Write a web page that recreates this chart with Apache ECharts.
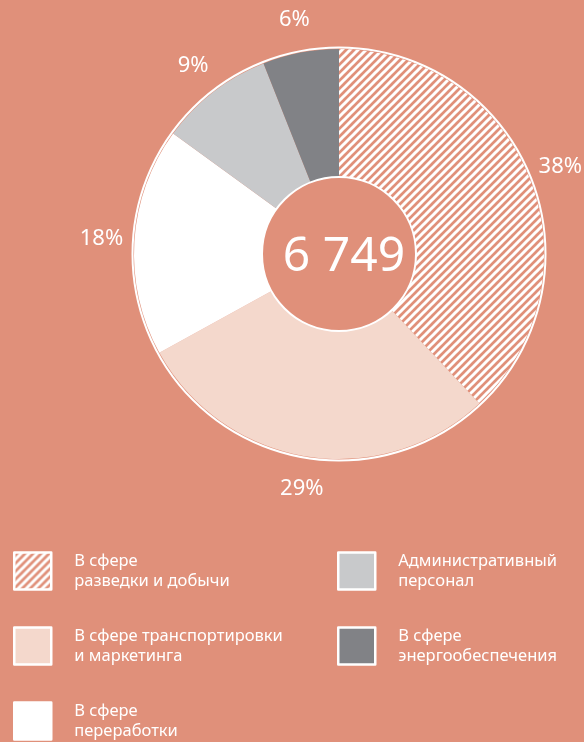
<!DOCTYPE html>
<html>
<head>
<meta charset="utf-8">
<script src="https://cdn.jsdelivr.net/npm/echarts@6/dist/echarts.min.js"></script>
<style>
  html, body { margin: 0; padding: 0; background: #e0907a; }
  #chart { width: 584px; height: 742px; }
</style>
</head>
<body>
<div id="chart"></div>
<script>
// shares of staff by sphere, percent
var categories = [
  'В сфере разведки и добычи',
  'В сфере транспортировки и маркетинга',
  'В сфере переработки',
  'Административный персонал',
  'В сфере энергообеспечения'
];
var legendLines = [
  'В сфере\nразведки и добычи',
  'В сфере транспортировки\nи маркетинга',
  'В сфере\nпереработки',
  'Административный\nперсонал',
  'В сфере\nэнергообеспечения'
];
var shares = [38, 29, 18, 9, 6];
var totalLabel = '6 749';

var bg = '#e0907a';

// where each legend entry sits: [left, top]
var legendSpots = [[13, 551], [13, 626], [13, 701], [337, 551], [337, 626]];

// diagonal white hatch for the first slice
function makeHatch() {
  var s = 8;
  var c = document.createElement('canvas');
  c.width = s;
  c.height = s;
  var ctx = c.getContext('2d');
  ctx.fillStyle = bg;
  ctx.fillRect(0, 0, s, s);
  ctx.strokeStyle = '#ffffff';
  ctx.lineWidth = 3;
  ctx.beginPath();
  ctx.moveTo(-2, s + 2); ctx.lineTo(s + 2, -2);
  ctx.moveTo(-s - 2, s + 2); ctx.lineTo(2, -2);
  ctx.moveTo(-2, 2 * s + 2); ctx.lineTo(2 * s + 2, -2);
  ctx.stroke();
  return c;
}

var colors = [
  { image: makeHatch(), repeat: 'repeat' },
  '#f4d8cc',
  '#ffffff',
  '#c8c9cb',
  '#818286'
];

var pieData = categories.map(function (name, i) {
  return { name: name, value: shares[i], itemStyle: { color: colors[i] } };
});

var chart = echarts.init(document.getElementById('chart'));

var legends = categories.map(function (name, i) {
  return {
    orient: 'vertical',
    left: legendSpots[i][0],
    top: legendSpots[i][1],
    padding: 0,
    itemWidth: 37,
    itemHeight: 37,
    icon: 'rect',
    selectedMode: false,
    data: [name],
    itemStyle: { borderColor: '#ffffff', borderWidth: 2.5 },
    textStyle: {
      color: '#ffffff',
      fontFamily: 'Noto Sans',
      fontSize: 16.5,
      lineHeight: 20,
      padding: [0, 0, 0, 18]
    },
    formatter: function (n) {
      return legendLines[categories.indexOf(n)];
    }
  };
});

chart.setOption({
  backgroundColor: bg,
  animation: false,
  title: {
    text: totalLabel,
    left: 339,
    top: 252,
    textAlign: 'center',
    textVerticalAlign: 'middle',
    textStyle: {
      color: '#ffffff',
      fontFamily: 'Noto Sans',
      fontWeight: 'normal',
      fontSize: 48
    }
  },
  legend: legends,
  series: [
    {
      type: 'pie',
      center: [339, 254],
      radius: [77, 205],
      startAngle: 90,
      clockwise: true,
      silent: true,
      itemStyle: { borderWidth: 0 },
      label: { show: false },
      labelLine: { show: false },
      data: pieData
    },
    {
      // white outline of the ring
      type: 'pie',
      center: [339, 254],
      radius: [77, 206.5],
      silent: true,
      itemStyle: { color: 'transparent', borderColor: '#ffffff', borderWidth: 2 },
      label: { show: false },
      labelLine: { show: false },
      data: [{ name: 'outline', value: 1 }]
    },
    {
      // transparent ring that only carries the percent labels
      type: 'pie',
      center: [339, 254],
      radius: [190, 280],
      startAngle: 90,
      clockwise: true,
      silent: true,
      itemStyle: { color: 'transparent' },
      label: {
        show: true,
        position: 'inside',
        color: '#ffffff',
        fontFamily: 'Noto Sans',
        fontSize: 22,
        formatter: '{c}%'
      },
      labelLine: { show: false },
      data: categories.map(function (name, i) { return { name: name, value: shares[i] }; })
    }
  ]
});
</script>
</body>
</html>
